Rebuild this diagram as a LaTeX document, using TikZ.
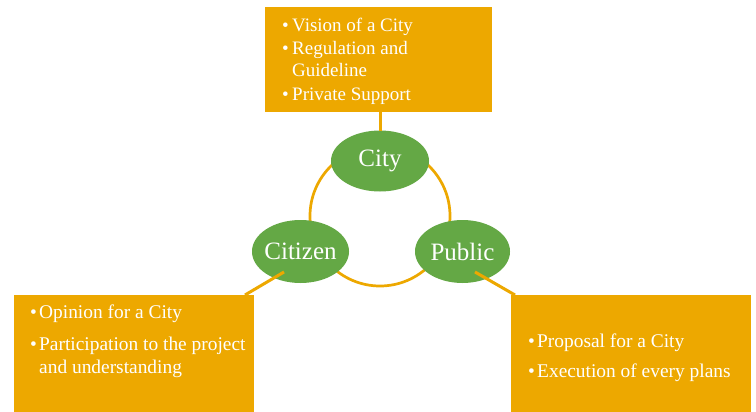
\documentclass[tikz,border=0pt]{standalone}
\usepackage{fontspec}
\setmainfont{Liberation Serif}
\usetikzlibrary{shapes.geometric}
\definecolor{gold}{RGB}{237,168,0}
\definecolor{leaf}{RGB}{100,168,69}
\begin{document}
\begin{tikzpicture}[x=1pt,y=-1pt,
  box/.style={fill=gold,draw=none,inner sep=0pt},
  actor/.style={ellipse,fill=leaf,draw=none,inner sep=0pt,text=white,font=\fontsize{25}{29}\selectfont},
  item/.style={anchor=base west,inner sep=0pt,text=white,font=\fontsize{19}{23}\selectfont},
  lowitem/.style={item,font=\fontsize{19.4}{23}\selectfont},
  link/.style={draw=gold,line width=3pt},
  ring/.style={draw=gold,line width=2.7pt}]
\useasboundingbox[fill=white] (0,0) rectangle (756,412);
% boxes
\node[box,minimum width=227pt,minimum height=105pt] (topbox) at (378.5,59.5) {};
\node[box,minimum width=240pt,minimum height=117pt] (leftbox) at (134,353.5) {};
\node[box,minimum width=240pt,minimum height=117pt] (rightbox) at (631,353.5) {};
% ring
\coordinate (ringc) at (380,216);
\draw[ring] (ringc) circle[radius=70pt];
% actors
\node[actor,minimum width=98pt,minimum height=61pt] (city) at (380,161) {\makebox[0pt]{City}};
\node[actor,minimum width=97pt,minimum height=63pt] (citizen) at (300.5,251.5) {\makebox[0pt]{Citizen}};
\node[actor,minimum width=95pt,minimum height=63pt] (public) at (462.5,251.5) {\makebox[0pt]{Public}};
% connectors
\coordinate (topend) at (380,112);
\coordinate (cityin) at (380,131);
\draw[link] (topend) -- (cityin);
\coordinate (citizenin) at (284,272);
\coordinate (leftend) at (245,295);
\draw[link] (citizenin) -- (leftend);
\coordinate (publicin) at (475,272);
\coordinate (rightend) at (515,295);
\draw[link] (publicin) -- (rightend);
% top texts
\node[item] (b1) at (282,32) {•};
\node[item] (t1) at (292,32) {Vision of a City};
\node[item] (b2) at (282,55) {•};
\node[item] (t2) at (292,55) {Regulation and};
\node[item] (t3) at (292,77) {Guideline};
\node[item] (b4) at (282,100) {•};
\node[item] (t4) at (292,100) {Private Support};
% left texts
\node[lowitem] (l1b) at (30,318) {•};
\node[lowitem] (l1) at (39,318) {Opinion for a City};
\node[lowitem] (l2b) at (30,350) {•};
\node[lowitem] (l2) at (39,350) {Participation to the project};
\node[lowitem] (l3) at (39,373) {and understanding};
% right texts
\node[lowitem] (r1b) at (528,347) {•};
\node[lowitem] (r1) at (537,347) {Proposal for a City};
\node[lowitem] (r2b) at (528,377) {•};
\node[lowitem] (r2) at (537,377) {Execution of every plans};
\end{tikzpicture}
\end{document}
